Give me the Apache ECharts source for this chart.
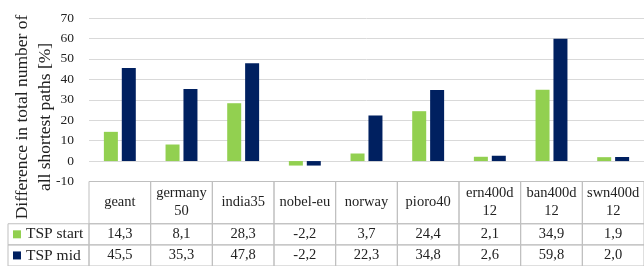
<!DOCTYPE html>
<html>
<head>
<meta charset="utf-8">
<script src="https://cdn.jsdelivr.net/npm/echarts@6/dist/echarts.min.js"></script>
<style>
  html, body { margin: 0; padding: 0; background: #fff; }
  #main { width: 644px; height: 266px; }
</style>
</head>
<body>
<div id="main"></div>
<script>
// data
var categories = ['geant', 'germany\n50', 'india35', 'nobel-eu', 'norway', 'pioro40', 'ern400d\n12', 'ban400d\n12', 'swn400d\n12'];
var seriesNames = ['TSP start', 'TSP mid'];
var tspStart = [14.3, 8.1, 28.3, -2.2, 3.7, 24.4, 2.1, 34.9, 1.9];
var tspMid = [45.5, 35.3, 47.8, -2.2, 22.3, 34.8, 2.6, 59.8, 2.0];
var yMin = -10, yMax = 70, yStep = 10;
var yTitle = 'Difference in total number of\nall shortest paths [%]';

var colors = ['#92d050', '#002060'];
var font = '"Liberation Serif", serif';
var border = '#bfbfbf';

function fmt(v) { return v.toFixed(1).replace('.', ','); }

var chart = echarts.init(document.getElementById('main'));

// table cells, one column per category (rows: header 0-2, start 2-3, mid 3-4)
function renderCol(params, api) {
  var i = api.value(0);
  var p0 = api.coord([i, 0]);
  var w = api.size([1, 0])[0];
  var x0 = p0[0] - w / 2;
  var y0 = p0[1], y2 = api.coord([i, 2])[1], y3 = api.coord([i, 3])[1], y4 = api.coord([i, 4])[1];
  var rows = [[y0, y2, categories[i]], [y2, y3, fmt(tspStart[i])], [y3, y4, fmt(tspMid[i])]];
  var kids = [];
  rows.forEach(function (r) {
    kids.push({ type: 'rect', shape: { x: x0, y: r[0], width: w, height: r[1] - r[0] },
      style: { fill: 'none', stroke: border, lineWidth: 1 } });
    kids.push({ type: 'text', style: { text: r[2], x: x0 + w / 2, y: (r[0] + r[1]) / 2,
      align: 'center', verticalAlign: 'middle', fontFamily: font, fontSize: 14.5, lineHeight: 18, fill: '#222' } });
  });
  if (i === 0) {
    var lx = 8;
    [[y2, y3], [y3, y4]].forEach(function (r, k) {
      kids.push({ type: 'rect', shape: { x: lx, y: r[0], width: x0 - lx, height: r[1] - r[0] },
        style: { fill: 'none', stroke: border, lineWidth: 1 } });
      var cy = (r[0] + r[1]) / 2;
      kids.push({ type: 'rect', shape: { x: 13, y: cy - 4, width: 8, height: 8 }, style: { fill: colors[k] } });
      kids.push({ type: 'text', style: { text: seriesNames[k], x: 26, y: cy,
        align: 'left', verticalAlign: 'middle', fontFamily: font, fontSize: 15.5, fill: '#222' } });
    });
  }
  return { type: 'group', children: kids };
}

chart.setOption({
  animation: false,
  textStyle: { fontFamily: font },
  grid: [
    { left: 89, right: 0, top: 18, bottom: 84.5 },
    { left: 89, right: 0, top: 181.5, bottom: 0 }
  ],
  xAxis: [
    { gridIndex: 0, type: 'category', data: categories, show: false },
    { gridIndex: 1, type: 'category', data: categories, show: false }
  ],
  yAxis: [
    {
      gridIndex: 0, type: 'value', min: yMin, max: yMax, interval: yStep,
      axisLine: { show: false }, axisTick: { show: false },
      axisLabel: { margin: 15, fontFamily: font, fontSize: 13.5, color: '#222' },
      splitLine: { lineStyle: { color: '#d9d9d9', width: 1 } }
    },
    { gridIndex: 1, type: 'value', min: 0, max: 4, inverse: true, show: false }
  ],
  graphic: [{
    type: 'text', x: 33.5, y: 117, rotation: Math.PI / 2,
    style: { text: yTitle, align: 'center', verticalAlign: 'middle',
      fontFamily: font, fontSize: 17.5, lineHeight: 23, fill: '#222' }
  }],
  series: [
    { name: seriesNames[0], type: 'bar', data: tspStart, barWidth: 14, barGap: '28%',
      itemStyle: { color: colors[0] } },
    { name: seriesNames[1], type: 'bar', data: tspMid, barWidth: 14, barGap: '28%',
      itemStyle: { color: colors[1] } },
    { type: 'custom', xAxisIndex: 1, yAxisIndex: 1, data: categories.map(function (c, i) { return [i]; }),
      renderItem: renderCol, silent: true }
  ]
});
</script>
</body>
</html>
